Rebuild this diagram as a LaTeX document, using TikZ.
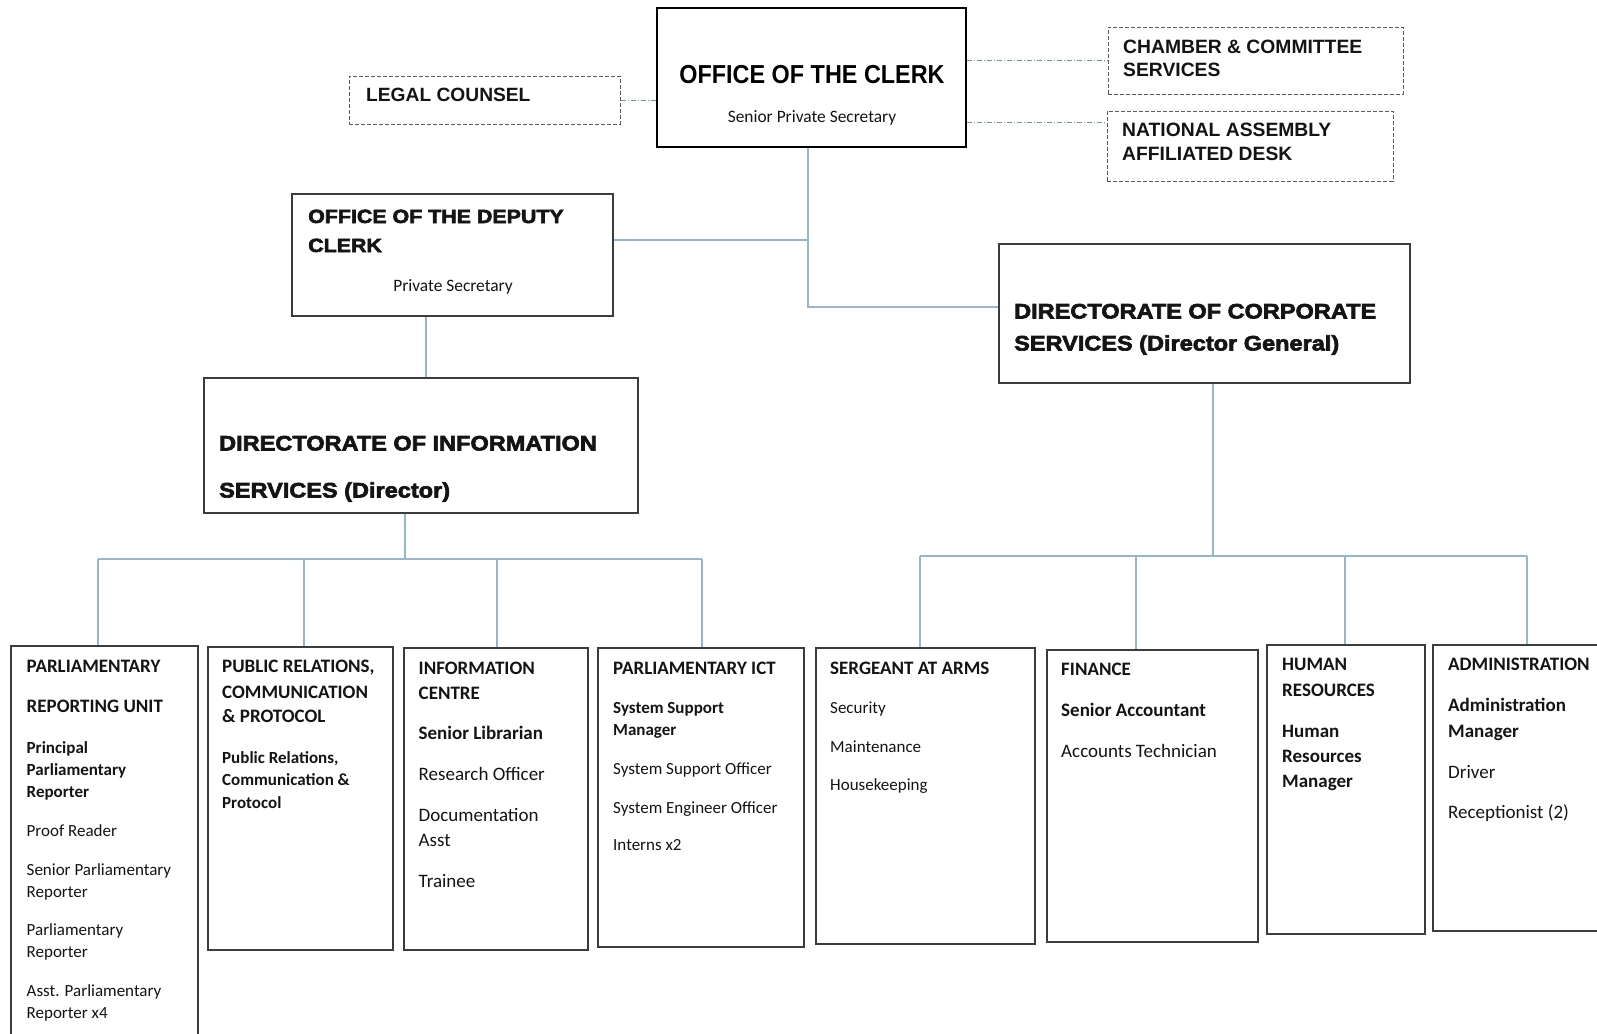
\documentclass[tikz,border=0pt]{standalone}
\usepackage{fontspec}
\setmainfont{Carlito}
\newfontfamily\arialfont{Liberation Sans Bold}
\newfontfamily\arialnarrow[FakeStretch=0.9]{Liberation Sans Bold}
\newfontfamily\arialblack[FakeStretch=1.12,FakeBold=3]{Liberation Sans Bold}
\usetikzlibrary{fit}
\definecolor{connc}{RGB}{150,182,206}
\definecolor{boxc}{RGB}{60,60,60}
\definecolor{dashc}{RGB}{90,90,90}
\definecolor{bodyc}{RGB}{20,20,20}
\newcommand\ftTitle{\fontsize{19bp}{22bp}\selectfont\bfseries}
\newcommand\ftSB{\fontsize{17bp}{20bp}\selectfont\bfseries}
\newcommand\ftSR{\fontsize{17bp}{20bp}\selectfont}
\newcommand\ftLB{\fontsize{19bp}{22bp}\selectfont\bfseries}
\newcommand\ftLR{\fontsize{19bp}{22bp}\selectfont}
\newcommand\tline[5]{\node[tl,font=#4] (#1) at (#2,#3) {#5};}
\tikzset{
  box/.style={draw=boxc, line width=1.2bp, inner sep=0pt},
  mainbox/.style={draw=black, line width=2bp, inner sep=0pt},
  dbox/.style={draw=dashc, line width=1bp, dash pattern=on 4bp off 2bp, inner sep=0pt},
  conn/.style={draw=connc, line width=1.4bp},
  dconn/.style={draw=connc!80!black, line width=0.9bp, dash pattern=on 5bp off 2bp on 1bp off 2bp},
  tl/.style={anchor=base west, inner sep=0pt, text=bodyc},
  tc/.style={anchor=base, inner sep=0pt, text=bodyc},
}
\begin{document}
\begin{tikzpicture}[x=1bp,y=-1bp]
\fill[white] (0,0) rectangle (1597,1033);
\useasboundingbox (0,0) rectangle (1597,1033);

% ---------- boxes ----------
\node[mainbox, fit={(657,8) (966,147)}] (clerk) {};
\node[dbox, fit={(349,76) (620,124)}] (legal) {};
\node[dbox, fit={(1108,27) (1403,94)}] (chamber) {};
\node[dbox, fit={(1107,111) (1393,181)}] (natl) {};
\node[box, fit={(292,194) (613,316)}] (deputy) {};
\node[box, fit={(999,244) (1410,383)}] (corp) {};
\node[box, fit={(204,378) (638,513)}] (info) {};
\node[box, fit={(11,646) (198,1045)}] (pru) {};
\node[box, fit={(208,647) (393,950)}] (pr) {};
\node[box, fit={(404,648) (588,950)}] (ic) {};
\node[box, fit={(598,648) (804,947)}] (ict) {};
\node[box, fit={(816,648) (1035,944)}] (sgt) {};
\node[box, fit={(1047,650) (1258,942)}] (fin) {};
\node[box, fit={(1267,645) (1425,934)}] (hr) {};
\node[box, fit={(1433,645) (1605,931)}] (adm) {};

% ---------- top texts ----------
\node[tc, text=black, font=\arialnarrow\fontsize{26bp}{28bp}\selectfont] (clerkT) at (812,83) {OFFICE OF THE CLERK};
\node[tc, font=\fontsize{17.4bp}{19bp}\selectfont] (clerkS) at (812,122.5) {Senior Private Secretary};
\tline{legalT}{366}{101}{\arialfont\fontsize{19.2bp}{22bp}\selectfont\color{black}}{LEGAL COUNSEL}
\tline{chamT1}{1123}{53}{\arialfont\fontsize{19.3bp}{22bp}\selectfont\color{black}}{CHAMBER \& COMMITTEE}
\tline{chamT2}{1123}{76}{\arialfont\fontsize{19.3bp}{22bp}\selectfont\color{black}}{SERVICES}
\tline{natT1}{1122}{136}{\arialfont\fontsize{19.3bp}{22bp}\selectfont\color{black}}{NATIONAL ASSEMBLY}
\tline{natT2}{1122}{160}{\arialfont\fontsize{19.3bp}{22bp}\selectfont\color{black}}{AFFILIATED DESK}
\tline{depT1}{308}{223}{\arialblack\fontsize{19.1bp}{22bp}\selectfont\color{black}}{OFFICE OF THE DEPUTY}
\tline{depT2}{308}{252}{\arialblack\fontsize{19.1bp}{22bp}\selectfont\color{black}}{CLERK}
\node[tc, font=\fontsize{17.4bp}{19bp}\selectfont] (depS) at (453,291.5) {Private Secretary};
\tline{infT1}{219}{450.5}{\arialblack\fontsize{21bp}{24bp}\selectfont\color{black}}{DIRECTORATE OF INFORMATION}
\tline{infT2}{219}{497.5}{\arialblack\fontsize{21bp}{24bp}\selectfont\color{black}}{SERVICES (Director)}
\tline{corT1}{1014}{318.5}{\arialblack\fontsize{21bp}{24bp}\selectfont\color{black}}{DIRECTORATE OF CORPORATE}
\tline{corT2}{1014}{350.5}{\arialblack\fontsize{21bp}{24bp}\selectfont\color{black}}{SERVICES (Director General)}

% ---------- bottom texts ----------
% Parliamentary reporting unit
\tline{pru1}{26.5}{672}{\ftTitle}{PARLIAMENTARY}
\tline{pru2}{26.5}{712}{\ftTitle}{REPORTING UNIT}
\tline{pru3}{26.5}{753}{\ftSB}{Principal}
\tline{pru4}{26.5}{775}{\ftSB}{Parliamentary}
\tline{pru5}{26.5}{797}{\ftSB}{Reporter}
\tline{pru6}{26.5}{836}{\ftSR}{Proof Reader}
\tline{pru7}{26.5}{875}{\ftSR}{Senior Parliamentary}
\tline{pru8}{26.5}{897}{\ftSR}{Reporter}
\tline{pru9}{26.5}{935}{\ftSR}{Parliamentary}
\tline{pru10}{26.5}{957}{\ftSR}{Reporter}
\tline{pru11}{26.5}{996}{\ftSR}{Asst. Parliamentary}
\tline{pru12}{26.5}{1018}{\ftSR}{Reporter x4}
% Public relations
\tline{pr1}{222}{672}{\ftTitle}{PUBLIC RELATIONS,}
\tline{pr2}{222}{698}{\ftTitle}{COMMUNICATION}
\tline{pr3}{222}{722}{\ftTitle}{\& PROTOCOL}
\tline{pr4}{222}{763}{\ftSB}{Public Relations,}
\tline{pr5}{222}{785}{\ftSB}{Communication \&}
\tline{pr6}{222}{808}{\ftSB}{Protocol}
% Information centre
\tline{ic1}{418.5}{674}{\ftTitle}{INFORMATION}
\tline{ic2}{418.5}{699}{\ftTitle}{CENTRE}
\tline{ic3}{418.5}{739}{\ftLB}{Senior Librarian}
\tline{ic4}{418.5}{780}{\ftLR}{Research Officer}
\tline{ic5}{418.5}{821}{\ftLR}{Documentation}
\tline{ic6}{418.5}{846}{\ftLR}{Asst}
\tline{ic7}{418.5}{887}{\ftLR}{Trainee}
% ICT
\tline{ict1}{613}{674}{\ftTitle}{PARLIAMENTARY ICT}
\tline{ict2}{613}{713}{\ftSB}{System Support}
\tline{ict3}{613}{735}{\ftSB}{Manager}
\tline{ict4}{613}{774}{\ftSR}{System Support Officer}
\tline{ict5}{613}{813}{\ftSR}{System Engineer Officer}
\tline{ict6}{613}{850}{\ftSR}{Interns x2}
% Sergeant at arms
\tline{sgt1}{830}{674}{\ftTitle}{SERGEANT AT ARMS}
\tline{sgt2}{830}{713}{\ftSR}{Security}
\tline{sgt3}{830}{752}{\ftSR}{Maintenance}
\tline{sgt4}{830}{790}{\ftSR}{Housekeeping}
% Finance
\tline{fin1}{1061}{675}{\ftTitle}{FINANCE}
\tline{fin2}{1061}{716}{\ftLB}{Senior Accountant}
\tline{fin3}{1061}{757}{\ftLR}{Accounts Technician}
% Human resources
\tline{hr1}{1282}{670}{\ftTitle}{HUMAN}
\tline{hr2}{1282}{696}{\ftTitle}{RESOURCES}
\tline{hr3}{1282}{737}{\ftLB}{Human}
\tline{hr4}{1282}{762}{\ftLB}{Resources}
\tline{hr5}{1282}{787}{\ftLB}{Manager}
% Administration
\tline{adm1}{1448}{670}{\ftTitle}{ADMINISTRATION}
\tline{adm2}{1448}{711}{\ftLB}{Administration}
\tline{adm3}{1448}{737}{\ftLB}{Manager}
\tline{adm4}{1448}{778}{\ftLR}{Driver}
\tline{adm5}{1448}{818}{\ftLR}{Receptionist (2)}

% ---------- connectors ----------
\coordinate (j1) at (808,240);
\coordinate (j2) at (808,307);
\draw[conn] (clerk.south -| j1) -- (j2) -- (j2 -| corp.west);
\draw[conn] (deputy.east |- j1) -- (j1);
\coordinate (d1) at (426,0);
\draw[conn] (deputy.south -| d1) -- (info.north -| d1);

% dash-dot links
\draw[dconn] (legal.east) -- (legal.east -| clerk.west);
\draw[dconn] (chamber.west -| clerk.east) -- (chamber.west);
\coordinate (n1) at (0,122);
\draw[dconn] (clerk.east |- n1) -- (natl.west |- n1);

% information services bus
\coordinate (bi) at (405,559);
\draw[conn] (info.south -| bi) -- (bi);
\coordinate (bl) at (98,559);
\coordinate (br) at (702,559);
\draw[conn] (bl) -- (br);
\draw[conn] (bl) -- (pru.north -| bl);
\coordinate (b2) at (304,559);
\draw[conn] (b2) -- (pr.north -| b2);
\coordinate (b3) at (497,559);
\draw[conn] (b3) -- (ic.north -| b3);
\draw[conn] (br) -- (ict.north -| br);

% corporate services bus
\coordinate (ci) at (1213,556);
\draw[conn] (corp.south -| ci) -- (ci);
\coordinate (cl) at (920,556);
\coordinate (cr) at (1527,556);
\draw[conn] (cl) -- (cr);
\draw[conn] (cl) -- (sgt.north -| cl);
\coordinate (c2) at (1136,556);
\draw[conn] (c2) -- (fin.north -| c2);
\coordinate (c3) at (1345,556);
\draw[conn] (c3) -- (hr.north -| c3);
\draw[conn] (cr) -- (adm.north -| cr);
\end{tikzpicture}
\end{document}
